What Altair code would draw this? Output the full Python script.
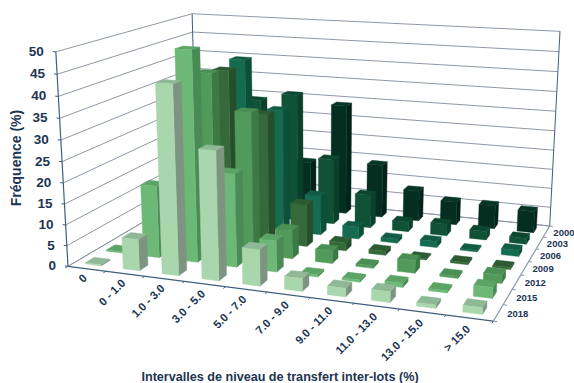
import altair as alt
import numpy as np

CATEGORIES = ["0", "0 - 1.0", "1.0 - 3.0", "3.0 - 5.0", "5.0 - 7.0", "7.0 - 9.0",
              "9.0 - 11.0", "11.0 - 13.0", "13.0 - 15.0", "> 15.0"]
YEARS = ["2018", "2015", "2012", "2009", "2006", "2003", "2000"]
Z_TICKS = [0, 5, 10, 15, 20, 25, 30, 35, 40, 45, 50]

V2018 = [0.3, 7.5, 44, 30, 8.5, 3, 2, 2.5, 0.8, 1.5]
V2015 = [0.3, 17.5, 50, 22.3, 7.5, 0.5, 0.5, 1, 0.5, 2.5]
V2012 = [0, 0, 43, 34.5, 7, 3, 0.6, 3, 0.5, 2]
V2009 = [0, 0, 42, 32, 10.5, 2, 1, 0.3, 0.5, 0.5]
V2006 = [0, 0, 43, 31, 10, 3, 1, 1.5, 0.4, 1.5]
V2003 = [0, 0, 31, 33, 17, 8.5, 2.5, 3, 2.2, 1.5]
V2000 = [0, 0, 20, 13, 29, 14, 8, 6, 6, 5.5]
SERIES = [V2018, V2015, V2012, V2009, V2006, V2003, V2000]

# front, right side, top face colours per year
FACES = [
    ("#a9d6ac", "#7d9580", "#8fb896"),
    ("#6cb877", "#4a8a55", "#5ca366"),
    ("#519a59", "#3c7a45", "#4a9054"),
    ("#35693a", "#254f2a", "#2c5a32"),
    ("#156b50", "#0d503a", "#115c45"),
    ("#0f5238", "#0a3f2b", "#0c4631"),
    ("#042f20", "#03231a", "#063526"),
]

BAR_W = 0.42
BAR_D = 0.42
Z_MAX = 50.0

# Perspective camera fitted on reference points of the plot box (unit cube -> pixels)
BOX = [
    ((0, 0, 0), (68, 265)), ((1, 0, 0), (494, 322)), ((1, 1, 0), (550, 224)),
    ((0, 1, 0), (197, 192)), ((0, 0, 1), (56, 52)), ((1, 1, 1), (560, 32)),
    ((0, 1, 1), (192, 13)), ((0.5, 0, 0), (267, 292)), ((1, 0.5, 0), (524, 269)),
]
rows = []
for (X, Y, Z), (u, v) in BOX:
    rows.append([X, Y, Z, 1, 0, 0, 0, 0, -u * X, -u * Y, -u * Z, -u])
    rows.append([0, 0, 0, 0, X, Y, Z, 1, -v * X, -v * Y, -v * Z, -v])
CAM = np.linalg.svd(np.array(rows, float))[2][-1].reshape(3, 4)


def project(cx, cy, z):
    """Category units, year units and percent to page pixels."""
    p = CAM @ np.array([cx / len(CATEGORIES), cy / len(YEARS), z / Z_MAX, 1.0])
    return [float(p[0] / p[2]), float(p[1] / p[2])]


def face(points, color):
    ring = [project(*pt) for pt in points]
    ring.append(ring[0])
    return {"type": "Feature", "properties": {"fill": color},
            "geometry": {"type": "Polygon", "coordinates": [ring]}}


features = []
for j in range(len(YEARS) - 1, -1, -1):
    front, side, top = FACES[j]
    for i, value in enumerate(SERIES[j]):
        if value <= 0:
            continue
        x0, x1 = i + 0.5 - BAR_W / 2, i + 0.5 + BAR_W / 2
        y0, y1 = j + 0.5 - BAR_D / 2, j + 0.5 + BAR_D / 2
        features.append(face([(x1, y0, 0), (x1, y1, 0), (x1, y1, value), (x1, y0, value)], side))
        features.append(face([(x0, y0, value), (x1, y0, value), (x1, y1, value), (x0, y1, value)], top))
        features.append(face([(x0, y0, 0), (x1, y0, 0), (x1, y0, value), (x0, y0, value)], front))

NI, NJ = len(CATEGORIES), len(YEARS)
GRID_COLOR = "#8f99a5"
AXIS_COLOR = "#3f5f7f"
TEXT_COLOR = "#1c3553"


def seg(a, b, color, width):
    pa, pb = project(*a), project(*b)
    return {"x": pa[0], "y": pa[1], "x2": pb[0], "y2": pb[1], "c": color, "w": width}


lines = []
for z in Z_TICKS:
    lines.append(seg((0, 0, z), (0, NJ, z), GRID_COLOR, 1))
    lines.append(seg((0, NJ, z), (NI, NJ, z), GRID_COLOR, 1))
    lines.append(seg((0, 0, z), (-0.08, 0, z), AXIS_COLOR, 1))
lines.append(seg((0, 0, 0), (0, 0, 50), AXIS_COLOR, 1.2))
lines.append(seg((0, NJ, 0), (0, NJ, 50), AXIS_COLOR, 1))
lines.append(seg((NI, NJ, 0), (NI, NJ, 50), AXIS_COLOR, 1))
lines.append(seg((0, 0, 0), (0, NJ, 0), GRID_COLOR, 1))
lines.append(seg((0, NJ, 0), (NI, NJ, 0), GRID_COLOR, 1))
lines.append(seg((0, 0, 0), (NI, 0, 0), AXIS_COLOR, 1.3))
lines.append(seg((NI, 0, 0), (NI, NJ, 0), GRID_COLOR, 1.2))
for i in range(NI + 1):
    lines.append(seg((i, 0, 0), (i, -0.12, 0), AXIS_COLOR, 1))
for j in range(NJ + 1):
    lines.append(seg((NI, j, 0), (NI + 0.08, j, 0), GRID_COLOR, 1))

z_labels = []
for z in Z_TICKS:
    p = project(0, 0, z)
    z_labels.append({"x": p[0] - 12, "y": p[1], "t": str(z)})

cat_labels = []
for i, name in enumerate(CATEGORIES):
    p = project(i + 0.5, -0.5, 0)
    cat_labels.append({"x": p[0] + 10 - 0.55 * i, "y": p[1] + 1, "t": name})

year_labels = []
for j, name in enumerate(YEARS):
    p = project(NI + 0.25, j + 0.5, 0)
    year_labels.append({"x": p[0] - 3, "y": p[1], "t": name})


def xy():
    return dict(x=alt.X("x:Q", scale=None), y=alt.Y("y:Q", scale=None))


rules = alt.Chart(alt.Data(values=lines)).mark_rule().encode(
    x=alt.X("x:Q", scale=None), y=alt.Y("y:Q", scale=None),
    x2="x2:Q", y2="y2:Q",
    color=alt.Color("c:N", scale=None),
    strokeWidth=alt.StrokeWidth("w:Q", scale=None),
)

bars = alt.Chart(alt.Data(values=features)).mark_geoshape(strokeWidth=0.4).encode(
    fill=alt.Fill("properties.fill:N", scale=None),
    stroke=alt.Stroke("properties.fill:N", scale=None),
).project(type="identity", scale=1, translate=[0, 0])

FONT = "Liberation Sans"
z_text = alt.Chart(alt.Data(values=z_labels)).mark_text(
    font=FONT, fontWeight="bold", fontSize=13.5, align="right", baseline="middle", color=TEXT_COLOR
).encode(text="t:N", **xy())
cat_text = alt.Chart(alt.Data(values=cat_labels)).mark_text(
    font=FONT, fontWeight="bold", fontSize=11.3, align="right", baseline="middle", angle=315, color=TEXT_COLOR
).encode(text="t:N", **xy())
year_text = alt.Chart(alt.Data(values=year_labels)).mark_text(
    font=FONT, fontWeight="bold", fontSize=9.5, align="left", baseline="middle", color=TEXT_COLOR
).encode(text="t:N", **xy())
z_title = alt.Chart(alt.Data(values=[{"x": 17, "y": 158, "t": "Fréquence (%)"}])).mark_text(
    font=FONT, fontWeight="bold", fontSize=14, align="center", baseline="middle", angle=270, color=TEXT_COLOR
).encode(text="t:N", **xy())
x_title = alt.Chart(alt.Data(values=[{"x": 280, "y": 377, "t": "Intervalles de niveau de transfert inter-lots (%)"}])).mark_text(
    font=FONT, fontWeight="bold", fontSize=12.6, align="center", baseline="middle", color=TEXT_COLOR
).encode(text="t:N", **xy())

chart = alt.layer(rules, bars, z_text, cat_text, year_text, z_title, x_title).properties(
    width=574, height=383, padding=0, autosize=alt.AutoSizeParams(type="none"),
    background="#ffffff",
).configure_view(stroke=None)

chart.save("out.html", embed_options={"renderer": "svg", "actions": False})
